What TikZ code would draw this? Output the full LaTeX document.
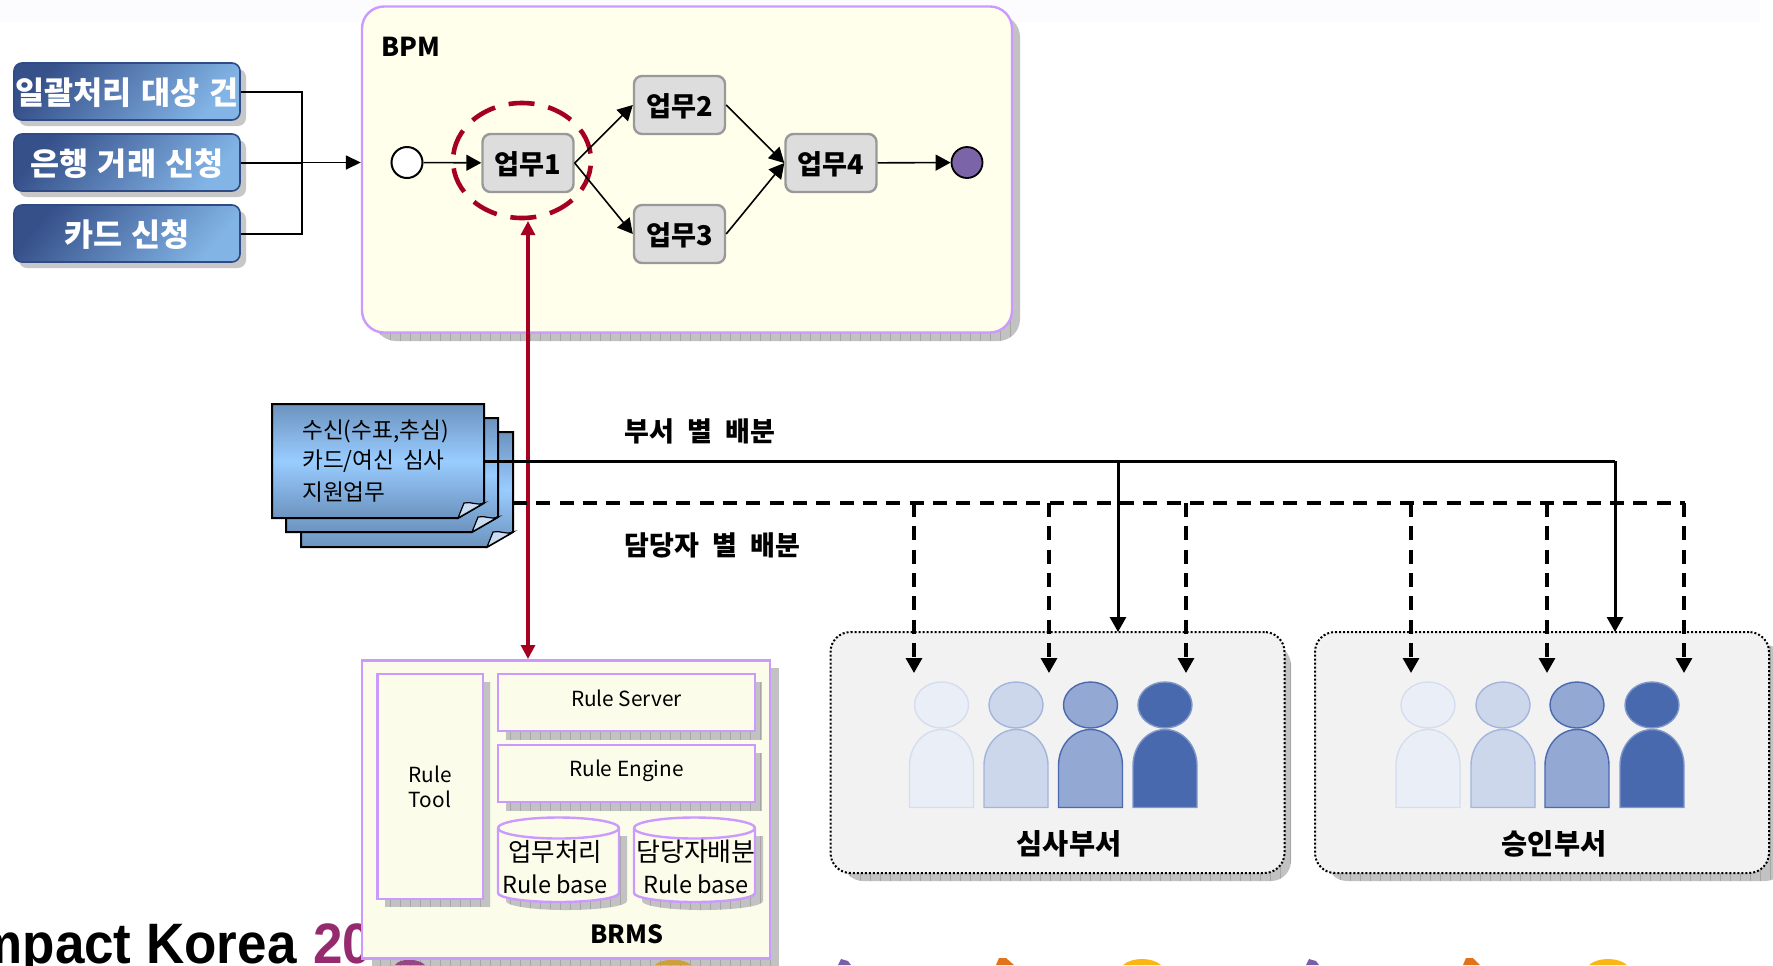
\documentclass[tikz,border=0pt]{standalone}
\usepackage{fontspec}
\setmainfont{Noto Sans CJK KR}
\newfontfamily\logofont{Liberation Sans}
\usetikzlibrary{arrows.meta,shapes.geometric,calc}
\definecolor{lilac}{HTML}{CC99FF}
\definecolor{creamA}{HTML}{FFFFEB}
\definecolor{creamB}{HTML}{FBFDEA}
\definecolor{shadowgr}{HTML}{C2C2C2}
\definecolor{gridgr}{HTML}{A6A6A6}
\definecolor{redd}{HTML}{A50021}
\definecolor{taskfill}{HTML}{DDDDDD}
\definecolor{taskline}{HTML}{999999}
\definecolor{pA}{HTML}{EAEEF7}\definecolor{pAl}{HTML}{D5DDEF}
\definecolor{pB}{HTML}{CCD7EB}\definecolor{pBl}{HTML}{A3B5DA}
\definecolor{pC}{HTML}{93A8D2}\definecolor{pCl}{HTML}{4A69AE}
\definecolor{pD}{HTML}{4869AE}\definecolor{pDl}{HTML}{7F97C8}
\definecolor{fragP}{RGB}{123,94,168}
\definecolor{fragO}{RGB}{224,115,28}
\definecolor{fragY}{RGB}{252,182,20}
\definecolor{logoP}{RGB}{150,42,110}
\definecolor{endP}{RGB}{123,100,168}
\definecolor{hidP}{RGB}{150,70,130}
\definecolor{hidY}{RGB}{205,160,60}
\definecolor{topband}{HTML}{FCFCFE}
\definecolor{DocE}{HTML}{6C93BF}\definecolor{DocM}{HTML}{99CCFF}\definecolor{DocF}{HTML}{C9DDF2}
\definecolor{SrcL}{HTML}{2F4A85}\definecolor{SrcD}{HTML}{36508A}\definecolor{SrcB}{HTML}{82B4E6}\definecolor{DeptF}{HTML}{F2F2F2}
\newcommand{\fs}[1]{\fontsize{#1}{#1}\selectfont}
\newcommand{\spc}[1]{\spaceskip=#1\relax}
\newcommand{\gridshadow}[5][0pt]{%
  \path[rounded corners=#1,fill=shadowgr,path picture={\draw[gridgr,line width=.3pt]
    (path picture bounding box.south west) grid[step=10] (path picture bounding box.north east);}]
    (#2,#3) rectangle (#4,#5);}
\newcommand{\person}[3]{%
  \draw[fill=#2,draw=#3,line width=.7pt] (#1-32,807.5) -- (#1-32,765.5) arc[start angle=180,end angle=0,x radius=16pt,y radius=18pt] -- (#1+32,807.5) -- cycle;
  \draw[fill=#2,draw=#3,line width=.7pt] (#1,705) ellipse[x radius=13.5pt,y radius=11.5pt];}
\newcommand{\docpage}[4]{%
  \path[shading=axis,top color=DocE,bottom color=DocE,middle color=DocM]
     (#1,#2) -- (#3,#2) -- (#3,#4-15) -- (#3-26,#4) -- (#1,#4) -- cycle;
  \draw[line width=1pt] (#1,#2) -- (#3,#2) -- (#3,#4-15) -- (#3-26,#4) -- (#1,#4) -- cycle;
  \draw[fill=DocF,line width=.6pt] (#3,#4-15) .. controls (#3-8,#4-12) and (#3-13,#4-17) .. (#3-20,#4-15) -- (#3-26,#4) -- cycle;}
% arguments: left, top, right, bottom
\newcommand{\cyl}[4]{%
  \path[fill=shadowgr,path picture={\draw[gridgr,line width=.3pt]
    (path picture bounding box.south west) grid[step=10] (path picture bounding box.north east);}]
   (#1+8,#2+19) -- (#1+8,#4+8-9) arc[start angle=180,end angle=360,x radius=30.25pt,y radius=4.5pt] -- (#3+8,#2+19) -- cycle;
  \draw[fill=creamB,draw=lilac,line width=1.2pt]
   (#1,#2+11) -- (#1,#4-9) arc[start angle=180,end angle=360,x radius=30.25pt,y radius=4.5pt] -- (#3,#2+11) arc[start angle=0,end angle=180,x radius=30.25pt,y radius=5.25pt] -- cycle;
  \draw[draw=lilac,line width=1.2pt] (#1,#2+11) arc[start angle=180,end angle=360,x radius=30.25pt,y radius=5.25pt];}
\tikzset{
  srcbox/.style={rounded corners=4pt,draw=SrcL,line width=.8pt,shading=axis,top color=SrcD,bottom color=SrcB,shading angle=50,
    minimum width=113pt,minimum height=28.5pt,inner sep=0,text=white,text height=13.4pt,text depth=0pt,font=\fs{15.8}\bfseries\spc{.3em}},
  task/.style={rounded corners=4pt,draw=taskline,fill=taskfill,line width=1.2pt,minimum width=45.5pt,minimum height=29pt,inner sep=0,text height=11.1pt,text depth=0pt,font=\fs{13.6}\bfseries},
  lilacbox/.style={draw=lilac,fill=creamB,line width=1.2pt,inner sep=0},
  deptbox/.style={rounded corners=10pt,fill=DeptF,draw=black,line width=1pt,dash pattern=on 1pt off 1pt,inner sep=0,minimum height=120.5pt},
  arr/.style={-{Triangle[length=7.5pt,width=7pt]},line width=.8pt},
  flowarr/.style={-{Triangle[length=7.5pt,width=8pt]},line width=.8pt},
  redarr/.style={{Triangle[length=7pt,width=7pt]}-{Triangle[length=7pt,width=7pt]},draw=redd,line width=1.6pt},
  solidarr/.style={-{Triangle[length=7.5pt,width=8pt]},line width=1.5pt},
  dasharr/.style={-{Triangle[length=7.5pt,width=8pt]},line width=1.6pt,dash pattern=on 7pt off 4.67pt},
  labelb/.style={inner sep=0,font=\fs{13.5}\bfseries\spc{.5em}},
  plain/.style={inner sep=0,font=\fs{10.4}},
  base/.style={inner sep=0,font=\fs{11.75}},
  doctext/.style={anchor=west,inner sep=0,font=\fs{11.3}\spc{.38em}},
  deptlabel/.style={inner sep=0,font=\fs{14.2}\bfseries},
}
\begin{document}
\begin{tikzpicture}[x=.5pt,y=-.5pt]
\useasboundingbox (0,0) rectangle (1773,965);
\clip (0,0) rectangle (1773,965);
\fill[white] (0,0) rectangle (1773,965);
\fill[topband] (0,0) rectangle (1760,22);

% logo behind everything
\node[anchor=base east,inner sep=0,xscale=.93,font=\logofont\bfseries\fs{28.5}] (logoA) at (297,963) {Impact Korea};
\node[anchor=base west,inner sep=0,xscale=.93,font=\logofont\bfseries\fs{28.5},text=logoP] (logoB) at (313,963) {20};

% bottom fragments
\fill[fragP] (838,965) -- (841,959) -- (848,961) -- (851,965) -- cycle;
\fill[fragP] (1306,965) -- (1309,959) -- (1316,961) -- (1319,965) -- cycle;
\fill[fragO] (996,965) -- (999,958) -- (1006,958) -- (1014,965) -- cycle;
\fill[fragO] (1463,965) -- (1466,958) -- (1473,958) -- (1480,965) -- cycle;
\fill[fragY] (1123,965) .. controls (1132,957) and (1152,957) .. (1161,965) -- cycle;
\fill[fragY] (1589,965) .. controls (1598,957) and (1618,957) .. (1627,965) -- cycle;

% BPM
\gridshadow[11pt]{374}{15}{1020}{341}
\node[rounded corners=11pt,draw=lilac,fill=creamA,line width=1.2pt,minimum width=325pt,minimum height=163pt,inner sep=0] (bpm) at (687,169.5) {};
\node[anchor=west,inner sep=0,font=\fs{13}\bfseries] (bpmlabel) at (381,47) {BPM};

% source boxes
\fill[rounded corners=4pt,black!22] (19,69) rectangle (246,126);
\fill[rounded corners=4pt,black!22] (19,140) rectangle (246,197);
\fill[rounded corners=4pt,black!22] (19,211) rectangle (246,268);
\node[srcbox] (s1) at (127,91.5) {일괄처리 대상 건};
\node[srcbox] (s2) at (127,162.5) {은행 거래 신청};
\node[srcbox] (s3) at (127,233.5) {카드 신청};
\coordinate (jn) at (302,162.5);
\draw[line width=1pt] (s1.east) -| (jn) |- (s3.east);
\draw[line width=1pt] (s2.east) -- (jn);
\draw[arr] (jn) -- (jn -| bpm.west);

% tasks
\node[circle,draw,fill=white,line width=1pt,minimum size=15.5pt,inner sep=0] (st) at (407,162.5) {};
\node[task] (t1) at (528,163) {업무1};
\node[task] (t2) at (679.5,105) {업무2};
\node[task] (t3) at (679.5,234) {업무3};
\node[task] (t4) at (831,163) {업무4};
\node[circle,draw,fill=endP,line width=.9pt,minimum size=15.5pt,inner sep=0] (en) at (967,162.5) {};
\node[draw=redd,dash pattern=on 13pt off 7pt,dash phase=16.5pt,line width=2.3pt,ellipse,minimum width=69pt,minimum height=57.5pt,inner sep=0] (focus) at (522,160.5) {};
\draw[flowarr] (st) -- (t1);
\draw[flowarr] (t1.east) -- (t2.west);
\draw[flowarr] (t1.east) -- (t3.west);
\draw[flowarr] (t2.east) -- (t4.west);
\draw[flowarr] (t3.east) -- (t4.west);
\draw[flowarr] (t4) -- (en);

% documents
\docpage{301}{432}{513}{547}
\docpage{286}{418}{498}{532}
\docpage{272}{404}{484}{518}
\node[doctext] (dl1) at (302,431) {수신(수표,추심)};
\node[doctext] (dl2) at (302,461) {카드/여신 심사};
\node[doctext] (dl3) at (302,492) {지원업무};
\coordinate (docA) at (484,461);
\coordinate (docB) at (513,503);

% departments
\gridshadow[10pt]{843}{645}{1291}{881}
\gridshadow[10pt]{1327}{645}{1785}{881}
\node[deptbox,minimum width=227pt] (d1) at (1057.5,752.5) {};
\node[deptbox,minimum width=227pt] (d2) at (1542,752.5) {};
\person{941.5}{pA}{pAl}\person{1016}{pB}{pBl}\person{1090.5}{pC}{pCl}\person{1165}{pD}{pDl}
\person{1428}{pA}{pAl}\person{1503}{pB}{pBl}\person{1577}{pC}{pCl}\person{1652}{pD}{pDl}
\node[deptlabel] (d1l) at (1069,844) {심사부서};
\node[deptlabel] (d2l) at (1554,844) {승인부서};

% BRMS
\gridshadow{372}{668}{779}{968}
\fill[hidP] (395,965) .. controls (400,958) and (418,958) .. (425,965) -- cycle;
\fill[hidY] (655,965) .. controls (662,958) and (684,958) .. (691,965) -- cycle;
\node[lilacbox,minimum width=204pt,minimum height=149pt] (brms) at (566,809.5) {};
\gridshadow{385}{682}{490}{907}
\node[lilacbox,minimum width=52.75pt,minimum height=112.5pt] (tool) at (430.25,786.5) {};
\node[plain] (toolA) at (430,774) {Rule};
\node[plain] (toolB) at (430,799) {Tool};
\gridshadow{506}{682}{762}{740}
\node[lilacbox,minimum width=128.5pt,minimum height=28.5pt] (srv) at (626.5,702.5) {};
\node[plain] (srvl) at (626.5,698) {Rule Server};
\gridshadow{506}{753}{762}{811}
\node[lilacbox,minimum width=128.5pt,minimum height=28.5pt] (eng) at (626.5,773.5) {};
\node[plain] (engl) at (626.5,771) {Rule Engine};
\cyl{498}{817}{619}{902}
\cyl{634}{817}{755}{902}
\node[inner sep=0,font=\fs{12.75}] (c1a) at (555,852) {업무처리};
\node[base] (c1b) at (555,884) {Rule base};
\node[inner sep=0,font=\fs{13}] (c2a) at (696,852) {담당자배분};
\node[base] (c2b) at (696,884) {Rule base};
\node[inner sep=0,font=\fs{12.5}\bfseries] (brmsl) at (626.5,934) {BRMS};

% red link
\coordinate (rt) at (528,221);
\coordinate (rb) at (528,659);
\draw[redarr] (rt) -- (rb);

% distribution
\node[labelb,anchor=west] (ll1) at (624,431) {부서 별 배분};
\node[labelb,anchor=west] (ll2) at (624,545) {담당자 별 배분};
\coordinate (sjA) at (1118,461); \coordinate (sjB) at (1615,461);
\coordinate (stA) at (1118,632); \coordinate (stB) at (1615,632);
\coordinate (dashend) at (1685,503);
\draw[line width=1.5pt] (docA) -- (sjB);
\draw[solidarr] (sjA) -- (stA);
\draw[solidarr] (sjB) -- (stB);
\draw[line width=1.6pt,dash pattern=on 7pt off 4.67pt] (docB) -- (dashend);
\foreach \i/\xx in {a/914,b/1049,c/1186,e/1411,f/1547,g/1684}{
  \coordinate (dj\i) at (\xx,503);
  \coordinate (de\i) at (\xx,673);
  \draw[dasharr] (dj\i) -- (de\i);
}
\end{tikzpicture}
\end{document}
